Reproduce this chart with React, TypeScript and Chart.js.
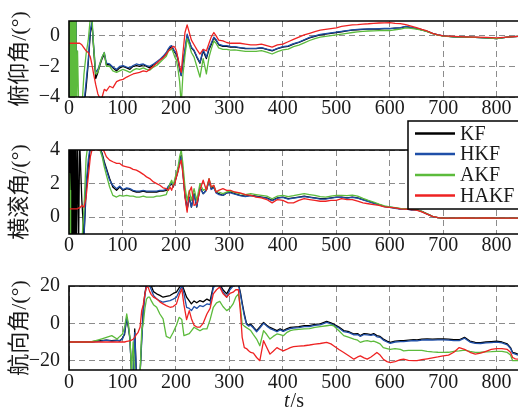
import React, { useEffect, useRef } from 'react';
import { Chart, registerables } from 'chart.js';

Chart.register(...registerables);

const SERIES_NAMES = ['KF', 'HKF', 'AKF', 'HAKF'];
const SERIES_COLORS = ['#000000', '#1f4fa8', '#5cbb3c', '#ee2222'];

const X_TICKS = [0, 100, 200, 300, 400, 500, 600, 700, 800];
const PITCH_TICKS = [-4, -2, 0];
const ROLL_TICKS = [0, 2, 4];
const HEAD_TICKS = [-20, 0, 20];

const PITCH_TITLE = '俯仰角/(°)';
const ROLL_TITLE = '横滚角/(°)';
const HEAD_TITLE = '航向角/(°)';

// time samples for pitch and roll panels
const T_PR = [
  0, 1, 2, 3, 4, 5, 6, 7, 8, 9, 10, 11, 12, 13, 14,
  16, 18, 20, 24, 28, 32, 36, 40, 43, 46, 50, 54, 58, 62, 66, 70, 76, 82, 89, 95,
  101, 108, 114, 120, 126, 132, 139, 145, 151, 158, 164, 170, 176, 182,
  186, 189, 192, 195, 198, 201, 204, 207, 210, 213, 217, 221, 225, 229, 234, 239, 245, 251, 257, 262, 266, 271, 275, 280, 288, 295, 302,
  310, 320, 330, 340, 350, 360, 370, 380, 390, 400, 410, 420, 430, 440, 450, 460, 470, 480, 490, 500,
  510, 520, 530, 540, 550, 560, 570, 580, 590, 600, 610, 620, 630, 640, 650, 660, 670, 680, 690, 700,
  720, 740, 760, 780, 800, 820, 840,
];

const PITCH_KF = [
  -0.5, 1.5, -5, 1.5, -5, 1.5, -5, 1.5, -5, 1.5, -5, 1.5, -5, 1.5, -5,
  -5, -5, -5, -5, -4.6, -3.4, -1.8, 0.2, 0.8, -0.8, -2.8, -2.4, -1.9, -1.5, -1.2, -1.9, -1.9, -2.1, -2.3, -2.1,
  -2.0, -2.1, -2.2, -2.0, -1.95, -2.0, -1.9, -2.0, -2.1, -1.9, -1.8, -1.6, -1.4, -1.2,
  -0.9, -0.8, -0.7, -0.9, -1.1, -1.2, -1.6, -2.2, -2.6, -1.8, -1.0, 0.0, -0.4, -0.8, -1.0, -1.4, -1.8, -1.0, -1.5, -0.9, -0.6, -0.15, -0.3, -0.6, -0.7, -0.7, -0.75,
  -0.75, -0.8, -0.85, -0.85, -0.85, -0.8, -0.9, -1.0, -0.85, -0.75, -0.7, -0.55, -0.45, -0.3, -0.15, -0.05, 0.05, 0.1, 0.15, 0.2,
  0.25, 0.3, 0.35, 0.38, 0.4, 0.42, 0.42, 0.43, 0.45, 0.45, 0.48, 0.5, 0.58, 0.52, 0.45, 0.38, 0.28, 0.15, 0.05, -0.02,
  -0.08, -0.1, -0.12, -0.15, -0.2, -0.1, -0.05,
];
const PITCH_HKF = [
  -0.5, 1.5, -5, 1.5, -5, 1.5, -5, 1.5, -5, 1.5, -5, 1.5, -5, 1.5, -5,
  -5, -5, -5, -5, -4.4, -3.0, -1.6, 0.4, 0.9, -0.6, -2.4, -2.2, -1.8, -1.4, -1.1, -1.8, -1.85, -2.05, -2.2, -2.0,
  -1.95, -2.05, -2.1, -1.95, -1.85, -1.9, -1.85, -1.95, -2.0, -1.85, -1.7, -1.55, -1.35, -1.1,
  -0.85, -0.7, -0.65, -0.85, -1.05, -1.15, -1.5, -2.1, -2.6, -1.7, -0.9, 0.1, -0.35, -0.75, -0.95, -1.35, -1.75, -0.9, -1.4, -0.8, -0.5, -0.1, -0.25, -0.55, -0.65, -0.65, -0.7,
  -0.72, -0.78, -0.82, -0.83, -0.83, -0.78, -0.88, -0.97, -0.83, -0.72, -0.67, -0.52, -0.42, -0.27, -0.12, -0.02, 0.08, 0.13, 0.18, 0.22,
  0.27, 0.32, 0.37, 0.4, 0.42, 0.43, 0.44, 0.45, 0.46, 0.46, 0.49, 0.52, 0.6, 0.53, 0.46, 0.38, 0.28, 0.15, 0.05, -0.02,
  -0.08, -0.1, -0.12, -0.15, -0.2, -0.1, -0.05,
];
const PITCH_AKF = [
  -0.5, 1.5, -5, 1.5, -5, 1.5, -5, 1.5, -5, 1.5, -5, 1.5, -5, 1.5, -5,
  -1.0, -4.5, -5, -4.8, -2.5, -1.2, -0.3, 1.2, 1.2, -0.7, -2.5, -2.4, -1.8, -1.4, -1.1, -2.0, -2.0, -2.3, -2.4, -2.3,
  -2.2, -2.3, -2.4, -2.25, -2.15, -2.2, -2.1, -2.2, -2.25, -2.05, -1.95, -1.75, -1.55, -1.35,
  -1.0, -0.95, -0.85, -1.1, -1.4, -1.6, -2.2, -3.0, -4.5, -2.6, -1.3, -0.2, -0.6, -1.1, -1.4, -2.0, -2.7, -1.5, -2.5, -1.4, -0.9, -0.35, -0.5, -0.8, -0.9, -0.9, -0.95,
  -0.93, -0.98, -1.03, -1.03, -1.03, -0.98, -1.08, -1.2, -1.05, -0.93, -0.88, -0.72, -0.62, -0.47, -0.32, -0.2, -0.1, -0.05, 0.0, 0.05,
  0.1, 0.15, 0.2, 0.24, 0.27, 0.3, 0.31, 0.32, 0.33, 0.33, 0.38, 0.42, 0.5, 0.47, 0.42, 0.35, 0.26, 0.13, 0.03, -0.03,
  -0.08, -0.1, -0.12, -0.15, -0.2, -0.1, -0.05,
];
const PITCH_HAKF = [
  -0.5, -0.5, -0.5, -0.5, -0.5, -0.5, -0.5, -0.5, -0.5, -0.5, -0.5, -0.5, -0.5, -0.5, -0.5,
  -0.5, -0.5, -0.5, -0.6, -0.8, -1.0, -1.1, -1.4, -1.9, -2.5, -3.2, -3.8, -4.1, -4.0, -3.5, -3.6, -3.3, -3.4, -3.0, -2.9,
  -2.85, -2.7, -2.6, -2.5, -2.45, -2.4, -2.3, -2.35, -2.2, -2.0, -1.8, -1.6, -1.45, -1.2,
  -1.0, -0.9, -0.8, -0.7, -0.75, -1.0, -1.5, -2.0, -2.4, -1.2, 0.2, 0.7, 0.2, -0.3, -0.6, -0.9, -1.2, -0.9, -1.0, -0.5, -0.1, 0.2, 0.0, -0.3, -0.35, -0.45, -0.5,
  -0.5, -0.5, -0.55, -0.6, -0.6, -0.55, -0.65, -0.75, -0.6, -0.55, -0.4, -0.25, -0.1, 0.05, 0.15, 0.25, 0.35, 0.4, 0.45, 0.5,
  0.6, 0.65, 0.7, 0.72, 0.75, 0.77, 0.8, 0.82, 0.83, 0.85, 0.8, 0.78, 0.72, 0.62, 0.52, 0.4, 0.3, 0.15, 0.05, -0.02,
  -0.05, -0.08, -0.1, -0.12, -0.15, -0.1, -0.05,
];

const ROLL_KF = [
  0, 4.5, -1.5, 4.5, -1.5, 4.5, -1.5, 4.5, -1.5, 4.5, -1.5, 4.5, -1.5, 4.5, -1.5,
  4.5, -1.5, 4.5, 1.0, -1.2, 1.5, 3.0, 4.2, 4.5, 4.3, 4.2, 4.3, 4.1, 3.8, 3.3, 2.9, 2.3, 1.8, 1.6, 1.8,
  1.6, 1.7, 1.65, 1.55, 1.5, 1.5, 1.55, 1.5, 1.5, 1.5, 1.5, 1.55, 1.55, 1.6,
  1.8, 1.9, 2.0, 1.8, 2.1, 2.4, 2.8, 3.3, 3.7, 2.8, 1.3, 0.5, 1.2, 0.6, 1.4, 0.6, 1.8, 1.4, 1.6, 2.2, 1.7, 1.8, 1.5, 1.4, 1.3, 1.45, 1.5,
  1.4, 1.3, 1.25, 1.3, 1.25, 1.2, 1.15, 1.0, 1.15, 1.2, 1.1, 1.15, 1.2, 1.25, 1.2, 1.15, 1.1, 1.1, 1.15, 1.2,
  1.2, 1.15, 1.2, 1.15, 1.05, 0.95, 0.85, 0.75, 0.65, 0.6, 0.55, 0.5, 0.5, 0.45, 0.45, 0.35, 0.2, 0.05, -0.02, -0.05,
  -0.05, -0.04, -0.05, -0.04, -0.05, -0.05, -0.05,
];
const ROLL_HKF = [
  -1.5, -1.5, -1.5, -1.5, -1.5, -1.5, -1.5, -1.5, -1.5, -1.5, -1.5, -1.5, -1.5, -1.5, -1.5,
  -1.5, -1.5, -1.5, -1.5, -1.2, 2.0, 3.4, 4.3, 4.5, 4.4, 4.3, 4.3, 4.1, 3.7, 3.2, 2.8, 2.2, 1.9, 1.7, 1.85,
  1.65, 1.75, 1.7, 1.6, 1.55, 1.55, 1.6, 1.55, 1.55, 1.55, 1.55, 1.6, 1.6, 1.65,
  1.85, 1.95, 2.05, 1.85, 2.15, 2.45, 2.85, 3.3, 3.6, 2.7, 1.25, 0.45, 1.15, 0.6, 1.35, 0.65, 1.75, 1.4, 1.6, 2.2, 1.65, 1.75, 1.45, 1.35, 1.3, 1.45, 1.45,
  1.38, 1.28, 1.23, 1.28, 1.23, 1.18, 1.13, 0.98, 1.13, 1.18, 1.08, 1.13, 1.18, 1.23, 1.18, 1.13, 1.08, 1.08, 1.13, 1.18,
  1.18, 1.13, 1.18, 1.13, 1.03, 0.93, 0.83, 0.73, 0.63, 0.58, 0.53, 0.48, 0.48, 0.43, 0.43, 0.33, 0.18, 0.04, -0.02, -0.05,
  -0.05, -0.04, -0.05, -0.04, -0.05, -0.05, -0.05,
];
const ROLL_AKF = [
  -1.5, 2.6, 1.6, -1.5, -1.5, -1.5, -1.5, -1.5, -1.5, -1.5, -1.5, -1.5, -1.5, -1.5, -1.5,
  -1.5, -1.5, -1.5, -1.5, 0.5, 3.5, 4.5, 4.5, 4.5, 4.4, 4.3, 4.2, 4.0, 3.6, 3.0, 2.5, 1.8, 1.3, 1.2, 1.3,
  1.25, 1.3, 1.25, 1.25, 1.2, 1.2, 1.25, 1.2, 1.2, 1.2, 1.25, 1.25, 1.3, 1.35,
  1.7, 2.0, 2.2, 1.9, 2.3, 2.6, 3.0, 3.6, 4.0, 3.2, 1.8, 1.0, 1.6, 1.0, 1.7, 1.0, 2.0, 1.6, 1.7, 2.3, 1.8, 1.85, 1.55, 1.5, 1.4, 1.5, 1.55,
  1.48, 1.4, 1.35, 1.4, 1.35, 1.3, 1.25, 1.1, 1.25, 1.3, 1.22, 1.28, 1.35, 1.4, 1.35, 1.3, 1.22, 1.2, 1.25, 1.3,
  1.3, 1.28, 1.32, 1.25, 1.12, 1.0, 0.9, 0.78, 0.68, 0.62, 0.57, 0.52, 0.5, 0.46, 0.45, 0.35, 0.2, 0.05, -0.02, -0.05,
  -0.05, -0.04, -0.05, -0.04, -0.05, -0.05, -0.05,
];
const ROLL_HAKF = [
  0.5, 0.5, 0.5, 0.5, 0.5, 0.5, 0.5, 0.5, 0.5, 0.5, 0.5, 0.5, 0.5, 0.5, 0.5,
  0.5, 0.55, 0.55, 0.7, 0.6, 1.2, 2.4, 3.6, 4.0, 4.0, 4.05, 4.0, 4.0, 4.05, 3.9, 3.6, 3.4, 3.3, 3.2, 3.2,
  3.05, 3.0, 2.95, 2.85, 2.8, 2.7, 2.55, 2.4, 2.3, 2.1, 2.0, 1.9, 1.75, 1.7,
  1.6, 1.8, 1.6, 1.9, 2.0, 2.4, 2.7, 3.1, 3.4, 2.6, 1.2, 0.3, 1.5, 1.8, 0.7, 0.8, 1.6, 2.2, 1.6, 2.3, 1.8, 1.9, 1.5, 1.6, 1.7, 1.6, 1.6,
  1.5, 1.45, 1.35, 1.3, 1.2, 1.15, 1.05, 0.85, 1.05, 1.0, 0.85, 0.85, 1.0, 1.1, 1.05, 1.0, 0.95, 0.95, 1.0, 1.0,
  1.1, 1.05, 1.05, 0.95, 0.85, 0.8, 0.75, 0.7, 0.62, 0.58, 0.55, 0.5, 0.48, 0.45, 0.42, 0.32, 0.18, 0.05, -0.02, -0.05,
  -0.05, -0.04, -0.05, -0.04, -0.05, -0.05, -0.05,
];

// time samples for the heading panel
const T_HEAD = [
  0, 10, 20, 30, 40, 50, 60, 70, 80, 90,
  95, 100, 104, 108, 111, 114, 117, 120, 123, 126,
  129, 133, 136, 139, 142, 145, 148, 151, 154, 158,
  164, 170, 176, 182, 189, 195, 201, 206, 211, 215,
  220, 225, 229, 234, 239, 245, 251, 258, 264, 270,
  276, 282, 288, 295, 301, 307, 312, 317, 321, 324,
  328, 332, 336, 340, 345, 351, 357, 364, 370, 376,
  382, 389, 395, 401, 407, 414, 420, 430, 440, 450,
  460, 470, 482, 490, 495, 505, 514, 524, 533, 540,
  545, 552, 558, 565, 570, 576, 582, 588, 595, 601,
  610, 620, 626, 635, 645, 651, 660, 670, 680, 690,
  700, 710, 720, 730, 740, 750, 760, 770, 780, 790,
  800, 810, 820, 826, 830, 835, 840,
];
const HEAD_KF = [
  -10, -10, -10, -10, -10, -9.6, -9.3, -9.0, -9.3, -9.0,
  -9.5, -8.0, -6, 3.0, -2, -8, -27, -27, -3, -27,
  -27, -27, -8, 8, 16, 21, 21, 21, 20, 17,
  15.8, 15, 14, 14.5, 14.9, 16, 16.7, 19, 21, 18,
  14, 12, 10.4, 12, 11, 12.2, 11.5, 13, 12, 20,
  21, 21, 18, 15.8, 19, 21, 21, 21, 16, 11,
  5, 0, -1, -0.5, -2, -3.9, -1.9, 0.5, -1, -2.2,
  -3, -3.9, -3, -3.9, -3, -2.2, -2, -1.8, -1.3, -1.2,
  -0.6, -0.3, 1.0, 0.2, -0.4, -2, -3.9, -4.5, -5.7, -5.5,
  -6.6, -5.5, -5.7, -6, -5.5, -6.6, -7, -8.4, -9.5, -10.2,
  -9.5, -9.3, -9.3, -9, -8.7, -8.9, -8.5, -8.3, -8.5, -8.4,
  -8.4, -8.5, -8.8, -8.8, -7.5, -9.5, -10.2, -10.3, -10, -9.8,
  -9.6, -10, -11, -13, -15.6, -16, -16.5,
];
const HEAD_HKF = [
  -10, -10, -10, -10, -10, -9.8, -9.5, -9.0, -9.6, -9.3,
  -9.2, -8.5, -5, 3.2, -1, -9, -27, -27, -5, -27,
  -27, -27, -10, 6, 15, 21, 21, 20, 18, 15,
  13.1, 12, 11.3, 11.8, 12.2, 13, 14, 17, 20, 16,
  8.6, 8, 6.8, 9, 8, 9.5, 9, 10.4, 10, 19,
  21, 20, 17, 14, 18, 20, 21, 21, 15, 10,
  4, -0.5, -1.5, -1, -2.5, -4.5, -2.5, 0, -1.5, -2.8,
  -3.5, -4.5, -3.5, -4.3, -3.5, -2.8, -2.5, -2.3, -1.8, -1.7,
  -1.1, -0.8, 0.5, -0.3, -0.9, -2.5, -4.5, -5, -6.2, -6,
  -7, -6, -6.2, -6.5, -6, -7.2, -7.5, -9, -10, -10.7,
  -10, -9.8, -9.8, -9.5, -9.2, -9.4, -9, -8.8, -9, -8.9,
  -8.9, -9, -9.3, -9.3, -8, -10, -10.7, -10.8, -10.5, -10.3,
  -10.1, -10.5, -11.5, -13.5, -16, -16.5, -17,
];
const HEAD_AKF = [
  -10, -10, -10, -10, -10, -9.3, -8.4, -7.5, -6.6, -8.4,
  -7, -5.7, -2, 5, 0, -7.5, -27, -10, -27, -27,
  -27, -27, -4, 0, 8, 13, 14, 14, 12, 10,
  8.6, 5, 2.4, -7, -8, -4.8, -1, 3.2, 2, -6.6,
  -6, -5.5, -4, -2.1, -3, -4, -3, -3, 2, 8.6,
  11, 11.8, 9, 6.8, 8, 10.4, 14, 15.8, 8, -0.5,
  -1.5, -2.3, -3, -3.9, -6, -8.4, -12, -3.9, -6, -8.4,
  -7, -5.7, -6, -6.6, -5, -3.9, -3.5, -3.2, -3, -2.8,
  -2.2, -1.8, -1.3, -1.0, -1.3, -4, -6.6, -7.5, -8.4, -9,
  -10.2, -9.5, -9.3, -9.8, -9.5, -10.2, -11, -13, -13.5, -13.9,
  -13.5, -14, -14.7, -14.5, -14.5, -14.5, -14.5, -15, -15.3, -15.5,
  -15.6, -15.5, -15, -14.8, -14.3, -15, -15.6, -15.5, -15.3, -15.2,
  -15, -15, -15.6, -17, -20, -20, -20,
];
const HEAD_HAKF = [
  -10, -10, -10, -10, -10, -10, -10, -10, -10, -10,
  -10, -10, -10, -9.7, -9.5, -9.3, -9, -8.5, -7.5, -6,
  -5, -2, 6.8, 10, 15.8, 19.4, 19.4, 17, 15.4, 14,
  13.1, 11.5, 10.4, 9.5, 8.6, 9, 10.4, 15, 18.5, 10,
  2, 6.8, 2.5, -1, -2, -2, 0, 5, 8, 15.8,
  18, 19.4, 16, 14, 16, 16.7, 18, 18, 5, -7.5,
  -13, -13.5, -14.7, -15.6, -16, -18.3, -20, -9.3, -13, -16.5,
  -15, -13, -14, -14.7, -14, -13, -12.5, -12.2, -12, -11.6,
  -11.1, -10.8, -10.2, -11, -12, -14, -15.6, -17.5, -19.2, -18,
  -17.4, -18.5, -19.2, -18, -17, -15.6, -17, -19.2, -20.5, -21,
  -20.5, -19.5, -19.2, -19.8, -20, -20, -19.5, -19, -18.5, -18,
  -17.4, -17, -15.5, -13, -13.9, -15.5, -16.5, -16, -15, -14,
  -13.5, -13.5, -14, -15.5, -18.3, -19, -19.2,
];

const SERIF = '"Liberation Serif", "Times New Roman", serif';
const TITLE_FONT = '"Liberation Serif", "Noto Sans CJK SC", serif';
const TEXT_COLOR = '#1a1a1a';
const GRID_COLOR = '#8c8c8c';

function buildDatasets(t: number[], series: number[][]) {
  return series.map((vals, i) => ({
    label: SERIES_NAMES[i],
    data: t.map((x, j) => ({ x, y: vals[j] })),
    borderColor: SERIES_COLORS[i],
    backgroundColor: SERIES_COLORS[i],
    borderWidth: 1.3,
    pointRadius: 0,
    tension: 0,
    fill: false,
    // later series are painted on top (HAKF uppermost)
    order: series.length - i,
  }));
}

const framePlugin = {
  id: 'frame',
  afterDatasetsDraw(chart: any) {
    const { ctx, chartArea } = chart;
    const { left, top, right, bottom } = chartArea;
    ctx.save();
    ctx.strokeStyle = '#000';
    ctx.lineWidth = 1.6;
    ctx.beginPath();
    ctx.moveTo(right + 4, top);
    ctx.lineTo(left, top);
    ctx.lineTo(left, bottom);
    ctx.lineTo(right + 4, bottom);
    ctx.stroke();
    ctx.restore();
  },
};

function yTitlePlugin(text: string) {
  return {
    id: 'ytitle',
    afterDraw(chart: any) {
      const { ctx, chartArea } = chart;
      ctx.save();
      ctx.translate(20.5, (chartArea.top + chartArea.bottom) / 2);
      ctx.rotate(-Math.PI / 2);
      ctx.font = `22px ${TITLE_FONT}`;
      ctx.fillStyle = TEXT_COLOR;
      ctx.textAlign = 'center';
      ctx.textBaseline = 'middle';
      ctx.fillText(text, 0, 0);
      ctx.restore();
    },
  };
}

const legendPlugin = {
  id: 'boxLegend',
  afterDraw(chart: any) {
    const { ctx } = chart;
    const x0 = 408, y0 = 6, x1 = 522, y1 = 94;
    ctx.save();
    ctx.fillStyle = '#ffffff';
    ctx.fillRect(x0, y0, x1 - x0, y1 - y0);
    ctx.strokeStyle = '#000';
    ctx.lineWidth = 1.5;
    ctx.strokeRect(x0, y0, x1 - x0, y1 - y0);
    const rows = [18.5, 39, 60, 80.5];
    SERIES_NAMES.forEach((name, i) => {
      const y = rows[i];
      ctx.strokeStyle = SERIES_COLORS[i];
      ctx.lineWidth = 2.6;
      ctx.beginPath();
      ctx.moveTo(415, y);
      ctx.lineTo(455, y);
      ctx.stroke();
      ctx.fillStyle = TEXT_COLOR;
      ctx.font = `20px ${SERIF}`;
      ctx.textAlign = 'left';
      ctx.textBaseline = 'middle';
      ctx.fillText(name, 460, y + 1);
    });
    ctx.restore();
  },
};

const xTitlePlugin = {
  id: 'xtitle',
  afterDraw(chart: any) {
    const { ctx, chartArea } = chart;
    const cx = (chartArea.left + chartArea.right) / 2;
    const y = 142;
    ctx.save();
    ctx.fillStyle = TEXT_COLOR;
    ctx.textBaseline = 'middle';
    ctx.textAlign = 'left';
    ctx.font = `italic 20px ${SERIF}`;
    const wt = ctx.measureText('t').width;
    ctx.font = `20px ${SERIF}`;
    const ws = ctx.measureText('/s').width;
    const start = cx - (wt + ws) / 2;
    ctx.font = `italic 20px ${SERIF}`;
    ctx.fillText('t', start, y);
    ctx.font = `20px ${SERIF}`;
    ctx.fillText('/s', start + wt + 1, y);
    ctx.restore();
  },
};

function fmt(v: number) {
  return v < 0 ? '\u2212' + Math.abs(v) : String(v);
}

function makeConfig(opts: {
  t: number[];
  series: number[][];
  yMin: number;
  yMax: number;
  yTicks: number[];
  padTop: number;
  xAxisH: number;
  tickPad: number;
  plugins: any[];
}) {
  return {
    type: 'line' as const,
    data: { datasets: buildDatasets(opts.t, opts.series) },
    options: {
      animation: false,
      responsive: false,
      maintainAspectRatio: false,
      layout: { padding: { top: opts.padTop, left: 0, right: 0, bottom: 0 } },
      plugins: { legend: { display: false }, tooltip: { enabled: false }, title: { display: false } },
      elements: { line: { borderJoinStyle: 'round' } },
      scales: {
        x: {
          type: 'linear',
          min: 0,
          max: 840,
          afterBuildTicks: (s: any) => { s.ticks = X_TICKS.map((v) => ({ value: v })); },
          afterFit: (s: any) => { s.height = opts.xAxisH; },
          ticks: { font: { family: SERIF, size: 20 }, color: TEXT_COLOR, padding: opts.tickPad, maxRotation: 0, autoSkip: false },
          grid: { color: GRID_COLOR, lineWidth: 1, drawTicks: false },
          border: { display: false, dash: [6, 4] },
        },
        y: {
          type: 'linear',
          min: opts.yMin,
          max: opts.yMax,
          afterBuildTicks: (s: any) => { s.ticks = opts.yTicks.map((v) => ({ value: v })); },
          afterFit: (s: any) => { s.width = 69; },
          ticks: { font: { family: SERIF, size: 20 }, color: TEXT_COLOR, padding: 9, callback: (v: any) => fmt(Number(v)) },
          grid: { color: GRID_COLOR, lineWidth: 1, drawTicks: false },
          border: { display: false, dash: [6, 4] },
        },
      },
    },
    plugins: opts.plugins,
  };
}

function Panel({ top, height, config }: { top: number; height: number; config: () => any }) {
  const ref = useRef<HTMLCanvasElement | null>(null);
  useEffect(() => {
    if (!ref.current) return;
    const chart = new Chart(ref.current, config());
    return () => chart.destroy();
  }, []);
  return (
    <canvas
      ref={ref}
      width={518}
      height={height}
      style={{ position: 'absolute', left: 0, top, width: 518, height, display: 'block' }}
    />
  );
}

export default function App() {
  return (
    <div style={{ position: 'fixed', left: 0, top: 0, width: 518, height: 411, overflow: 'hidden', background: '#fff' }}>
      <Panel
        top={0}
        height={125}
        config={() =>
          makeConfig({
            t: T_PR,
            series: [PITCH_KF, PITCH_HKF, PITCH_AKF, PITCH_HAKF],
            yMin: -4,
            yMax: 0.95,
            yTicks: PITCH_TICKS,
            padTop: 12,
            xAxisH: 28,
            tickPad: 0,
            plugins: [framePlugin, yTitlePlugin(PITCH_TITLE)],
          })
        }
      />
      <Panel
        top={115}
        height={145}
        config={() =>
          makeConfig({
            t: T_PR,
            series: [ROLL_KF, ROLL_HKF, ROLL_AKF, ROLL_HAKF],
            yMin: -1,
            yMax: 4,
            yTicks: ROLL_TICKS,
            padTop: 35,
            xAxisH: 26,
            tickPad: 0,
            plugins: [framePlugin, yTitlePlugin(ROLL_TITLE), legendPlugin],
          })
        }
      />
      <Panel
        top={260}
        height={151}
        config={() =>
          makeConfig({
            t: T_HEAD,
            series: [HEAD_KF, HEAD_HKF, HEAD_AKF, HEAD_HAKF],
            yMin: -25,
            yMax: 20,
            yTicks: HEAD_TICKS,
            padTop: 26,
            xAxisH: 41,
            tickPad: 1,
            plugins: [framePlugin, yTitlePlugin(HEAD_TITLE), xTitlePlugin],
          })
        }
      />
    </div>
  );
}
